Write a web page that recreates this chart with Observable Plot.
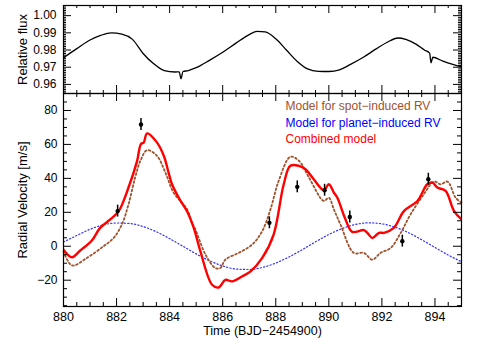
<!DOCTYPE html>
<html><head><meta charset="utf-8">
<script src="https://cdn.jsdelivr.net/npm/d3@7"></script>
<script src="https://cdn.jsdelivr.net/npm/@observablehq/plot@0.6"></script>
<style>
body{margin:0;background:#fff;}
#chart{position:relative;width:485px;height:348px;font-family:"Liberation Sans",Arial,sans-serif;}
#chart svg{position:absolute;left:0;overflow:visible;}
</style></head><body><div id="chart"></div>
<script>
// Light curve (top panel)
const fluxTime  = [880.0,880.5,881.0,881.4,881.8,882.2,882.6,883.0,883.4,883.8,884.2,884.36,884.43,884.50,884.7,885.0,885.5,886.0,886.5,887.0,887.3,887.6,888.0,888.4,888.8,889.2,889.6,890.0,890.4,890.8,891.3,891.8,892.2,892.6,892.9,893.3,893.6,893.80,893.85,893.92,894.3,894.7,895.0];
const fluxValue = [0.9755,0.9808,0.9858,0.9885,0.9900,0.9893,0.9862,0.9780,0.9720,0.9680,0.9672,0.9673,0.9633,0.9675,0.9680,0.9697,0.9740,0.9787,0.9840,0.9890,0.9908,0.9905,0.9865,0.9800,0.9735,0.9690,0.9676,0.9675,0.9685,0.9715,0.9758,0.9808,0.9845,0.9870,0.9862,0.9833,0.9800,0.9782,0.9726,0.9758,0.9735,0.9715,0.9702];

// Combined model (red)
const combTime = [880.0,880.32,880.63,881.07,881.38,881.76,882.08,882.45,882.77,882.92,883.02,883.15,883.52,883.78,883.96,884.09,884.4,884.66,884.91,885.16,885.6,885.85,886.1,886.35,886.73,887.05,887.49,887.92,888.3,888.55,888.87,889.12,889.43,889.81,890.0,890.19,890.32,890.63,890.88,891.32,891.45,891.64,891.89,892.08,892.45,892.83,893.34,893.71,893.9,894.09,894.4,894.72,895.0];
const combRV   = [-2.0,-6.5,-2.5,3.4,10.8,15.8,20.7,34.6,50.0,60.3,61.0,66.5,61.2,53.3,43.4,36.5,27.0,20.5,10.8,-3.0,-22.7,-24.3,-19.8,-20.7,-17.8,-14.8,-6.9,6.9,36.5,47.4,47.4,45.4,39.5,33.0,36.5,31.6,28.6,15.8,8.5,9.5,7.9,4.9,7.9,7.9,10.8,20.7,26.7,36.5,37.5,34.6,32.6,20.7,15.8];

// Spot-induced RV model (brown dotted)
const spotTime = [880.0,880.32,880.88,881.51,881.89,882.2,882.45,882.7,882.9,883.15,883.52,883.84,884.15,884.66,884.84,884.97,885.35,885.72,885.91,886.1,886.6,887.11,887.49,887.8,888.11,888.55,888.87,889.25,889.81,890.0,890.19,890.44,890.94,891.32,891.64,891.95,892.33,892.71,893.08,893.58,893.96,894.22,894.47,894.78,895.0];
const spotRV   = [-3.0,-11.3,-6.9,0.0,4.9,12.8,24.7,40.5,50.4,56.6,53.3,43.4,31.6,21.7,13.8,9.9,-4.9,-12.8,-12.8,-7.9,-3.9,1.0,8.9,21.7,38.5,52.7,50.4,40.5,26.7,28.6,21.7,12.8,-3.9,-3.9,-7.9,-3.9,-1.0,7.9,18.8,30.6,38.1,36.5,38.1,28.6,25.7];

// Planet-induced RV model (blue dotted)
const planetTime = [880.0,880.5,881.0,881.5,882.0,882.5,883.0,883.5,884.0,884.5,885.0,885.5,886.0,886.5,887.0,887.5,888.0,888.5,889.0,889.5,890.0,890.5,891.0,891.5,892.0,892.5,893.0,893.5,894.0,894.5,895.0];
const planetRV   = [2.5,6.3,10.0,12.6,13.7,13.4,11.6,8.5,4.5,0.0,-4.5,-8.5,-11.6,-13.4,-13.7,-12.5,-9.9,-6.3,-2.0,2.6,6.9,10.4,12.8,13.8,13.2,11.2,8.0,3.8,-0.7,-5.2,-9.1];

// Observed RVs
const obsTime = [882.04,882.92,887.76,888.81,889.84,890.79,892.77,893.75];
const obsRV   = [20.7,71.7,13.8,35.0,33.0,17.2,3.0,39.5];
const obsErr  = [3.5,3.5,3.5,3.5,3.5,3.5,3.5,3.5];

// Tick values and labels
const xMajor = [880,882,884,886,888,890,892,894];
const xMinor = d3.range(880.5,895,0.5).filter(v => v % 2 !== 0);
const fluxMajor = [0.96,0.97,0.98,0.99,1.00];
const fluxMinor = d3.range(955,1006).map(v => v/1000).filter(v => Math.round(v*1000) % 10 !== 0);
const rvMajor = [-20,0,20,40,60,80];
const rvMinor = d3.range(-35,91,5).filter(v => v % 20 !== 0);
const legendLabels = ["Model for spot\u2212induced RV","Model for planet\u2212induced RV","Combined model"];
const legendColors = ["#a0522d","#0000ff","#ff0000"];

const flux = fluxTime.map((t,i)=>({t, f: fluxValue[i]}));
const comb = combTime.map((t,i)=>({t, v: combRV[i]}));
const spot = spotTime.map((t,i)=>({t, v: spotRV[i]}));
const planet = planetTime.map((t,i)=>({t, v: planetRV[i]}));
const obs = obsTime.map((t,i)=>({t, v: obsRV[i], e: obsErr[i]}));

const W = 485, ML = 63, MR = 24;
const font = '"Liberation Sans", Arial, sans-serif';
const MAJ = 8, MIN = 4;

function edgeTicks(fh, fw, xs, ys, len) {
  return [
    Plot.tickX(xs, {x: d=>d, insetTop: fh - len, stroke: "black", strokeWidth: 1}),
    Plot.tickX(xs, {x: d=>d, insetBottom: fh - len, stroke: "black", strokeWidth: 1}),
    Plot.tickY(ys, {y: d=>d, insetRight: fw - len, stroke: "black", strokeWidth: 1}),
    Plot.tickY(ys, {y: d=>d, insetLeft: fw - len, stroke: "black", strokeWidth: 1})
  ];
}

const fw = W - ML - MR;
// Top panel
const topH = 94, topMT = 5, topMB = 1, topFH = topH - topMT - topMB;
const topPlot = Plot.plot({
  width: W, height: topH, marginLeft: ML, marginRight: MR, marginTop: topMT, marginBottom: topMB,
  x: {domain: [880, 895], axis: null},
  y: {domain: [0.9547, 1.0059], axis: null},
  style: {fontFamily: font, fontSize: "12px", color: "black", background: "transparent"},
  marks: [
    Plot.line(flux, {x: "t", y: "f", stroke: "black", strokeWidth: 1.3, curve: "monotone-x"}),
    ...edgeTicks(topFH, fw, xMinor, fluxMinor, MIN - 1),
    ...edgeTicks(topFH, fw, xMajor, fluxMajor, MAJ),
    Plot.frame({stroke: "black", strokeWidth: 1.2}),
    Plot.axisY({ticks: fluxMajor, tickSize: 0, tickPadding: 7, tickFormat: d3.format(".2f"), label: null, fontSize: 12}),
    Plot.text(["Relative flux"], {frameAnchor: "left", dx: -41, rotate: -90, textAnchor: "middle", lineAnchor: "middle", text: d=>d, fontSize: 13, fill: "black"})
  ]
});

// Bottom panel
const botH = 255, botMT = 0, botMB = 42, botFH = botH - botMT - botMB;
const botPlot = Plot.plot({
  width: W, height: botH, marginLeft: ML, marginRight: MR, marginTop: botMT, marginBottom: botMB,
  x: {domain: [880, 895], axis: null},
  y: {domain: [-35.5, 90], axis: null},
  style: {fontFamily: font, fontSize: "12px", color: "black", background: "transparent"},
  marks: [
    Plot.line(planet, {x: "t", y: "v", stroke: "#3030ff", strokeWidth: 1.2, strokeDasharray: "1.2,2.2", curve: "monotone-x"}),
    Plot.line(spot, {x: "t", y: "v", stroke: "#a0522d", strokeWidth: 1.8, strokeDasharray: "1.8,2.4", curve: "catmull-rom"}),
    Plot.line(comb, {x: "t", y: "v", stroke: "#ff0000", strokeWidth: 2.4, curve: "catmull-rom", clip: true}),
    Plot.ruleX(obs, {x: "t", y1: d => d.v - d.e, y2: d => d.v + d.e, stroke: "black", strokeWidth: 1.5}),
    Plot.dot(obs, {x: "t", y: "v", r: 2.2, fill: "black"}),
    ...edgeTicks(botFH, fw, xMinor, rvMinor, MIN),
    ...edgeTicks(botFH, fw, xMajor, rvMajor, MAJ),
    Plot.frame({stroke: "black", strokeWidth: 1.2}),
    Plot.axisY({ticks: rvMajor, tickSize: 0, tickPadding: 6, label: null, fontSize: 12}),
    Plot.axisX({ticks: xMajor, tickSize: 0, tickPadding: 6, label: null, fontSize: 12.5}),
    Plot.text([legendLabels[0]], {frameAnchor: "top-left", dx: 222, dy: 12.7, lineAnchor: "middle", text: d=>d, fill: legendColors[0], fontSize: 12}),
    Plot.text([legendLabels[1]], {frameAnchor: "top-left", dx: 222, dy: 29.3, lineAnchor: "middle", text: d=>d, fill: legendColors[1], fontSize: 12}),
    Plot.text([legendLabels[2]], {frameAnchor: "top-left", dx: 222, dy: 45.3, lineAnchor: "middle", text: d=>d, fill: legendColors[2], fontSize: 12}),
    Plot.text(["Radial Velocity [m/s]"], {frameAnchor: "left", dx: -41, rotate: -90, textAnchor: "middle", lineAnchor: "middle", text: d=>d, fontSize: 13, fill: "black"}),
    Plot.text(["Time (BJD\u22122454900)"], {frameAnchor: "bottom", dy: 24.5, lineAnchor: "middle", text: d=>d, fontSize: 12.5, fill: "black"})
  ]
});

const chart = document.getElementById("chart");
topPlot.style.top = "0px";
botPlot.style.top = "93px";
chart.appendChild(topPlot);
chart.appendChild(botPlot);
</script></body></html>
